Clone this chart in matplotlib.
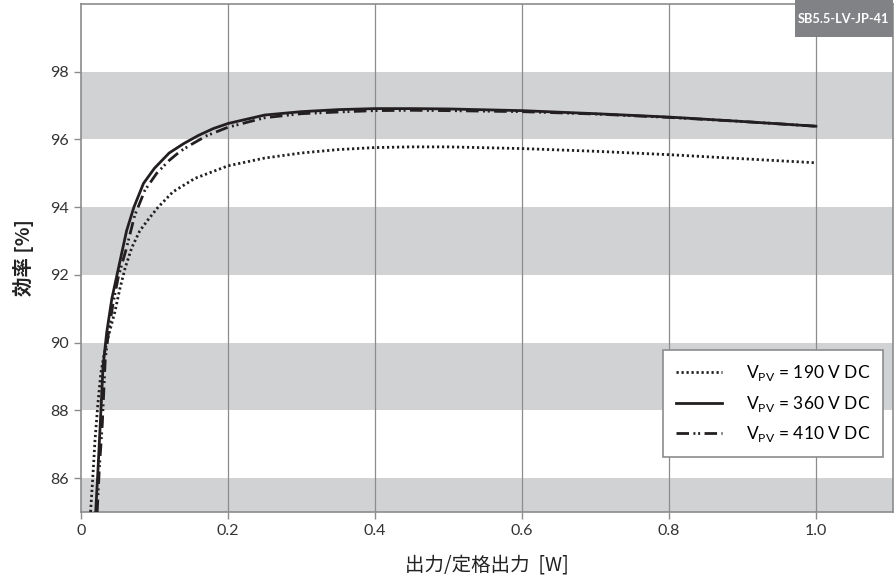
import matplotlib.pyplot as plt
from matplotlib.patches import Rectangle

# 190 V DC (dotted)
x_190 = [0.013, 0.016, 0.019, 0.023, 0.027, 0.031, 0.035, 0.041, 0.046, 0.053, 0.060, 0.069,
         0.080, 0.092, 0.105, 0.125, 0.155, 0.200, 0.250, 0.300, 0.350, 0.400, 0.450, 0.500,
         0.600, 0.700, 0.800, 0.900, 1.000]
y_190 = [85.0, 86.0, 87.1, 88.2, 89.1, 89.6, 90.0, 90.5, 90.9, 91.6, 92.2, 92.8,
         93.3, 93.65, 94.0, 94.45, 94.85, 95.22, 95.45, 95.60, 95.70, 95.76, 95.78, 95.78,
         95.73, 95.65, 95.55, 95.43, 95.31]

# 360 V DC (solid)
x_360 = [0.020, 0.023, 0.026, 0.030, 0.035, 0.042, 0.051, 0.062, 0.072, 0.085, 0.100, 0.120,
         0.140, 0.160, 0.180, 0.200, 0.250, 0.300, 0.350, 0.400, 0.450, 0.500, 0.600, 0.700,
         0.800, 0.900, 1.000]
y_360 = [85.0, 86.2, 87.5, 89.3, 90.3, 91.3, 92.2, 93.3, 94.0, 94.7, 95.15, 95.6,
         95.88, 96.12, 96.32, 96.47, 96.72, 96.82, 96.88, 96.91, 96.91, 96.90, 96.85, 96.76,
         96.66, 96.53, 96.39]

# 410 V DC (dash-dot-dot)
x_410 = [0.022, 0.025, 0.029, 0.033, 0.038, 0.044, 0.051, 0.062, 0.073, 0.087, 0.103, 0.120,
         0.135, 0.150, 0.171, 0.200, 0.250, 0.300, 0.350, 0.400, 0.450, 0.500, 0.600, 0.700,
         0.800, 0.900, 1.000]
y_410 = [85.0, 86.3, 87.6, 89.5, 90.4, 91.2, 91.96, 92.8, 93.75, 94.5, 95.0, 95.38,
         95.65, 95.85, 96.11, 96.36, 96.64, 96.76, 96.81, 96.85, 96.86, 96.85, 96.82, 96.75,
         96.65, 96.53, 96.39]

labels = ['V$_{\\mathregular{PV}}$ = 190 V DC',
          'V$_{\\mathregular{PV}}$ = 360 V DC',
          'V$_{\\mathregular{PV}}$ = 410 V DC']
x_ticks = [0, 0.2, 0.4, 0.6, 0.8, 1.0]
x_ticklabels = ['0', '0.2', '0.4', '0.6', '0.8', '1.0']
y_ticks = [86, 88, 90, 92, 94, 96, 98]
bands = [(84, 86), (88, 90), (92, 94), (96, 98)]

plt.rcParams['font.family'] = ['Lato', 'Noto Sans CJK JP', 'DejaVu Sans']
plt.rcParams['mathtext.fontset'] = 'custom'
plt.rcParams['mathtext.rm'] = 'Lato'

ink = '#231f20'
grey = '#8c8c8c'

fig = plt.figure(figsize=(8.94, 5.81), dpi=100)
ax = fig.add_axes([0.0906, 0.1188, 0.9083, 0.8744])

for lo, hi in bands:
    ax.axhspan(lo, hi, color='#d1d2d4', lw=0, zorder=0)
for xv in x_ticks[1:]:
    ax.axvline(xv, color=grey, lw=0.9, zorder=1)

ax.plot(x_190, y_190, color=ink, lw=2.0, linestyle=(0, (0.8, 1.0)), label=labels[0], zorder=3)
ax.plot(x_360, y_360, color=ink, lw=2.0, label=labels[1], zorder=4)
ax.plot(x_410, y_410, color=ink, lw=2.0, linestyle=(0, (4.5, 1.6, 0.7, 1.0, 0.7, 1.6)),
        label=labels[2], zorder=3)

ax.set_xlim(0, 1.105)
ax.set_ylim(85, 100)
ax.set_xticks(x_ticks)
ax.set_xticklabels(x_ticklabels)
ax.set_yticks(y_ticks)
ax.tick_params(colors=grey, labelcolor='#333333', labelsize=11.5, length=5, width=1)
for s in ax.spines.values():
    s.set_color(grey)
    s.set_linewidth(1.2)

ax.set_xlabel('出力/定格出力  [W]', fontsize=14, color='#222222', labelpad=12,
              family=['Noto Sans CJK JP', 'DejaVu Sans'])
ax.set_ylabel('効率 [%]', fontsize=14, color='#222222', labelpad=12,
              family=['Noto Sans CJK JP', 'DejaVu Sans'], fontweight='bold')

leg = ax.legend(loc='lower right', bbox_to_anchor=(0.988, 0.108), fontsize=12.5,
                frameon=True, fancybox=False, edgecolor=grey, framealpha=1,
                handlelength=2.6, handletextpad=1.4, labelspacing=0.6,
                borderpad=0.75, borderaxespad=0)
leg.get_frame().set_linewidth(1.2)

ax.add_patch(Rectangle((0.879, 0.935), 0.121, 0.075, transform=ax.transAxes,
                       color='#808285', lw=0, zorder=6, clip_on=False))
ax.text(0.9395, 0.97, 'SB5.5-LV-JP-41', transform=ax.transAxes, ha='center', va='center',
        color='white', fontsize=9.2, fontweight='bold', zorder=7)

fig.savefig('out.png', dpi=100)
